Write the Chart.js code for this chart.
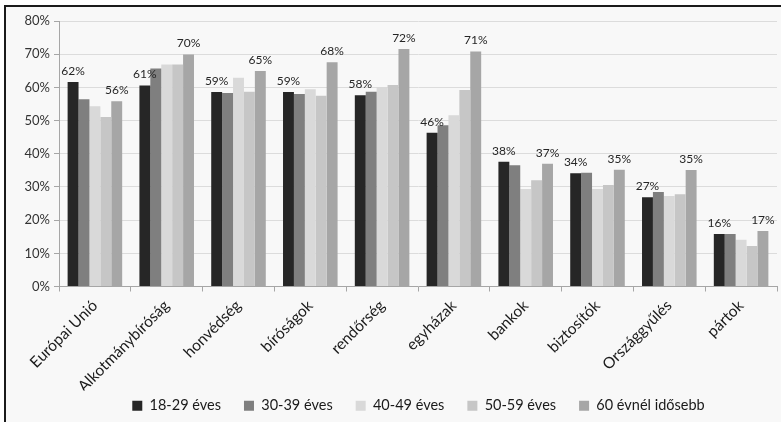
<!DOCTYPE html>
<html>
<head>
<meta charset="utf-8">
<script src="https://cdn.jsdelivr.net/npm/chart.js@4"></script>
<style>
  body { margin: 0; background: #fff; }
  #keret {
    position: absolute; left: 4px; top: 5px;
    width: 777px; height: 417px;
    border-top: 2px solid #1a1a1a; border-left: 2px solid #1a1a1a;
    background: #f8f8f8;
  }
  #bizalomChart { display: block; }
</style>
</head>
<body>
<div id="keret"><canvas id="bizalomChart" width="777" height="417"></canvas></div>
<script>
// intézmények
const kategoriak = ["Európai Unió", "Alkotmánybíróság", "honvédség", "bíróságok", "rendőrség",
                    "egyházak", "bankok", "biztosítók", "Országgyűlés", "pártok"];

// korcsoportok szerinti bizalom (%)
const ev18_29 = [61.6, 60.6, 58.6, 58.6, 57.6, 46.3, 37.6, 34.1, 26.9, 15.8];
const ev30_39 = [56.4, 65.7, 58.3, 58.0, 58.7, 48.6, 36.5, 34.3, 28.5, 15.8];
const ev40_49 = [54.3, 66.9, 62.9, 59.4, 60.1, 51.6, 29.4, 29.4, 27.3, 14.1];
const ev50_59 = [51.1, 66.9, 58.7, 57.5, 60.7, 59.2, 32.0, 30.6, 27.8, 12.2];
const ev60_felett = [55.8, 69.9, 64.9, 67.6, 71.6, 70.8, 37.0, 35.2, 35.1, 16.7];

const sorozatNevek = ["18-29 éves", "30-39 éves", "40-49 éves", "50-59 éves", "60 évnél idősebb"];
const szinek = ["#262626", "#7f7f7f", "#d9d9d9", "#c6c6c6", "#a6a6a6"];
const yTickek = [0, 10, 20, 30, 40, 50, 60, 70, 80];

const betu = "Lato, 'Open Sans', sans-serif";

// csak az első és az utolsó korcsoport kap feliratot
const feliratPlugin = {
    id: "feliratok",
    afterLayout(chart) {
        // jelmagyarázat: a rajzterület közepére, és kicsit feljebb
        const lg = chart.legend;
        lg.left += 27; lg.right += 27;
        lg.top -= 15; lg.bottom -= 15;
    },
    afterDatasetsDraw(chart) {
        const ctx = chart.ctx;
        ctx.save();
        ctx.font = "12px " + betu;
        ctx.fillStyle = "#262626";
        ctx.textAlign = "center";
        ctx.textBaseline = "bottom";
        [0, 4].forEach(i => {
            const meta = chart.getDatasetMeta(i);
            meta.data.forEach((bar, j) => {
                const v = chart.data.datasets[i].data[j];
                ctx.fillText(Math.round(v) + "%", bar.x, bar.y - 5);
            });
        });
        ctx.restore();
    }
};

const adatsorok = [ev18_29, ev30_39, ev40_49, ev50_59, ev60_felett].map((d, i) => ({
    label: sorozatNevek[i],
    data: d,
    backgroundColor: szinek[i],
    borderWidth: 0,
    barPercentage: 1.0,
    categoryPercentage: 0.76
}));

new Chart(document.getElementById("bizalomChart").getContext("2d"), {
    type: "bar",
    data: { labels: kategoriak, datasets: adatsorok },
    plugins: [feliratPlugin],
    options: {
        responsive: false,
        animation: false,
        layout: { padding: { left: 0, right: 6, top: 14, bottom: -14 } },
        plugins: {
            tooltip: { enabled: false },
            legend: {
                position: "bottom",
                labels: {
                    boxWidth: 10, boxHeight: 10, padding: 23,
                    color: "#1a1a1a",
                    font: { family: betu, size: 14.5 }
                }
            }
        },
        scales: {
            y: {
                min: 0, max: 80,
                afterBuildTicks: s => { s.ticks = yTickek.map(v => ({ value: v })); },
                afterFit: s => { s.width = 53; },
                ticks: {
                    callback: v => v + "%",
                    color: "#333",
                    padding: 4,
                    font: { family: betu, size: 13 }
                },
                grid: { color: "#dcdcdc", tickLength: 5, tickColor: "#a6a6a6" },
                border: { color: "#a6a6a6" }
            },
            x: {
                afterFit: s => { s.height = 104; },
                ticks: {
                    minRotation: 45, maxRotation: 45,
                    color: "#1a1a1a",
                    padding: 5,
                    font: { family: betu, size: 15.5 }
                },
                grid: { drawOnChartArea: false, tickLength: 5, color: "#a6a6a6" },
                border: { color: "#a6a6a6" }
            }
        }
    }
});
</script>
</body>
</html>
